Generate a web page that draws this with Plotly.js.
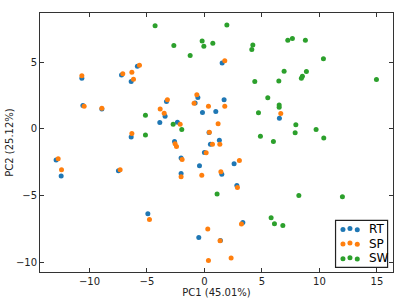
<!DOCTYPE html>
<html>
<head>
<meta charset="utf-8">
<script src="https://cdn.plot.ly/plotly-3.0.1.min.js"></script>
<style>html,body{margin:0;padding:0;background:#fff;}#chart{width:407px;height:305px;}</style>
</head>
<body>
<div id="chart"></div>
<script>
// RT series
var rtX = [-5.83,-7.21,-10.66,-6.37,-10.57,-8.92,-3.88,-6.37,1.54,-0.57,-3.30,1.71,-0.81,-3.42,-0.17,0.99,-2.35,0.40,1.30,6.52,-12.90,-12.46,-7.48,-4.92,-2.60,0.52,0.00,-2.03,2.58,-0.43,1.51,-2.03,2.82,3.34,-0.49,1.39];
var rtY = [4.70,4.05,3.80,3.55,1.75,1.50,0.47,-0.62,4.95,2.35,2.05,2.18,1.95,0.95,1.23,1.30,0.50,-0.27,-0.85,0.80,-2.33,-3.55,-3.15,-6.38,-0.95,-1.15,-1.78,-2.18,-2.63,-2.78,-3.40,-3.35,-4.25,-7.03,-8.15,-8.38];
// SP series
var spX = [-5.65,-6.31,-7.10,-10.66,-6.17,-10.46,-8.92,-3.85,-6.31,1.77,-0.66,-3.22,-0.90,0.35,1.77,-3.50,-2.11,1.19,0.43,6.64,-12.72,-12.43,-7.33,-4.78,-2.55,-2.43,0.70,1.34,0.15,-1.94,3.04,1.43,-2.03,-0.23,2.87,3.22,0.29,1.36,0.35,2.32];
var spY = [4.78,4.25,4.13,3.98,3.73,1.70,1.55,1.50,-0.35,5.12,2.57,2.18,1.93,1.70,1.70,1.17,0.35,0.38,-0.25,1.15,-2.25,-3.08,-3.08,-6.80,-1.12,-1.32,-1.15,-1.15,-1.80,-2.30,-2.38,-3.23,-3.60,-3.48,-4.40,-7.15,-7.53,-8.40,-9.88,-9.70];
// SW series
var swX = [-4.29,-5.13,-5.13,1.95,-0.20,0.73,-0.05,-2.66,4.21,4.12,-1.24,4.38,5.51,4.70,-2.72,-1.97,4.87,6.00,7.25,7.65,8.78,10.35,6.93,8.87,8.52,8.43,6.47,14.96,6.50,6.50,7.95,7.89,9.71,10.38,1.10,5.80,6.09,6.82,8.21,12.00];
var swY = [7.75,1.03,-0.47,7.80,6.60,6.43,6.20,6.25,6.30,5.95,5.50,3.55,2.33,1.20,0.35,-0.05,-0.55,-0.95,6.65,6.78,6.65,5.27,4.33,4.30,3.95,3.80,3.60,3.70,1.80,1.63,0.30,-0.30,-0.05,-0.68,-4.90,-6.68,-7.13,-7.25,-5.00,-5.10];

var seriesNames = ["RT","SP","SW"];
var seriesColors = ["#1f77b4","#ff7f0e","#2ca02c"];
var xTicks = [-10,-5,0,5,10,15];
var yTicks = [-10,-5,0,5];

var font = "DejaVu Sans, sans-serif";
var W = 407, H = 305;
var mL = 40, mR = 14.3, mT = 13, mB = 32.7;
var pw = W - mL - mR, ph = H - mT - mB;
function px(x){ return (x - mL) / pw; }
function py(y){ return (H - mB - y) / ph; }

var xs = [rtX, spX, swX], ys = [rtY, spY, swY];
var traces = seriesNames.map(function(n, i){
  return {x: xs[i], y: ys[i], name: n, type: "scatter", mode: "markers",
    marker: {color: seriesColors[i], size: 5, line: {width: 0}}, showlegend: false, hoverinfo: "skip"};
});

// custom legend (matplotlib style with three marker points)
var shapes = [{type: "rect", xref: "paper", yref: "paper",
  x0: px(335.3), x1: px(387.3), y0: py(267.7), y1: py(220.7),
  line: {color: "#222", width: 1.2}, fillcolor: "#fff", layer: "above"}];
var annotations = [];
var rowY = [229.5, 244, 258.7];
var mx = [342.7, 349.7, 357];
var dy = [0.3, -0.7, 0.6];
seriesNames.forEach(function(n, i){
  mx.forEach(function(x, j){
    shapes.push({type: "circle", xref: "paper", yref: "paper", xsizemode: "pixel", ysizemode: "pixel",
      xanchor: px(x), yanchor: py(rowY[i] + dy[j]), x0: -2.5, x1: 2.5, y0: -2.5, y1: 2.5,
      fillcolor: seriesColors[i], line: {width: 0}, layer: "above"});
  });
  annotations.push({xref: "paper", yref: "paper", x: px(366.5), y: py(rowY[i]), xanchor: "left", yanchor: "middle",
    text: n, showarrow: false, font: {family: font, size: 12, color: "#000"}});
});

var axisCommon = {showgrid: false, zeroline: false, showline: true, linecolor: "#333", linewidth: 1,
  mirror: "ticks", ticks: "inside", ticklen: 4, tickcolor: "#333", tickwidth: 1,
  tickfont: {family: font, size: 10, color: "#222"}};

var layout = {
  width: W, height: H,
  margin: {l: mL, r: mR, t: mT, b: mB, pad: 0},
  paper_bgcolor: "#fff", plot_bgcolor: "#fff",
  showlegend: false,
  xaxis: Object.assign({}, axisCommon, {range: [-14.3, 16.4], tickvals: xTicks,
    title: {text: "PC1 (45.01%)", font: {family: font, size: 10, color: "#222"}, standoff: 1}}),
  yaxis: Object.assign({}, axisCommon, {range: [-10.75, 8.7], tickvals: yTicks,
    title: {text: "PC2 (25.12%)", font: {family: font, size: 10, color: "#222"}, standoff: 0}}),
  shapes: shapes,
  annotations: annotations
};

Plotly.newPlot("chart", traces, layout, {staticPlot: true, displayModeBar: false});
</script>
</body>
</html>
